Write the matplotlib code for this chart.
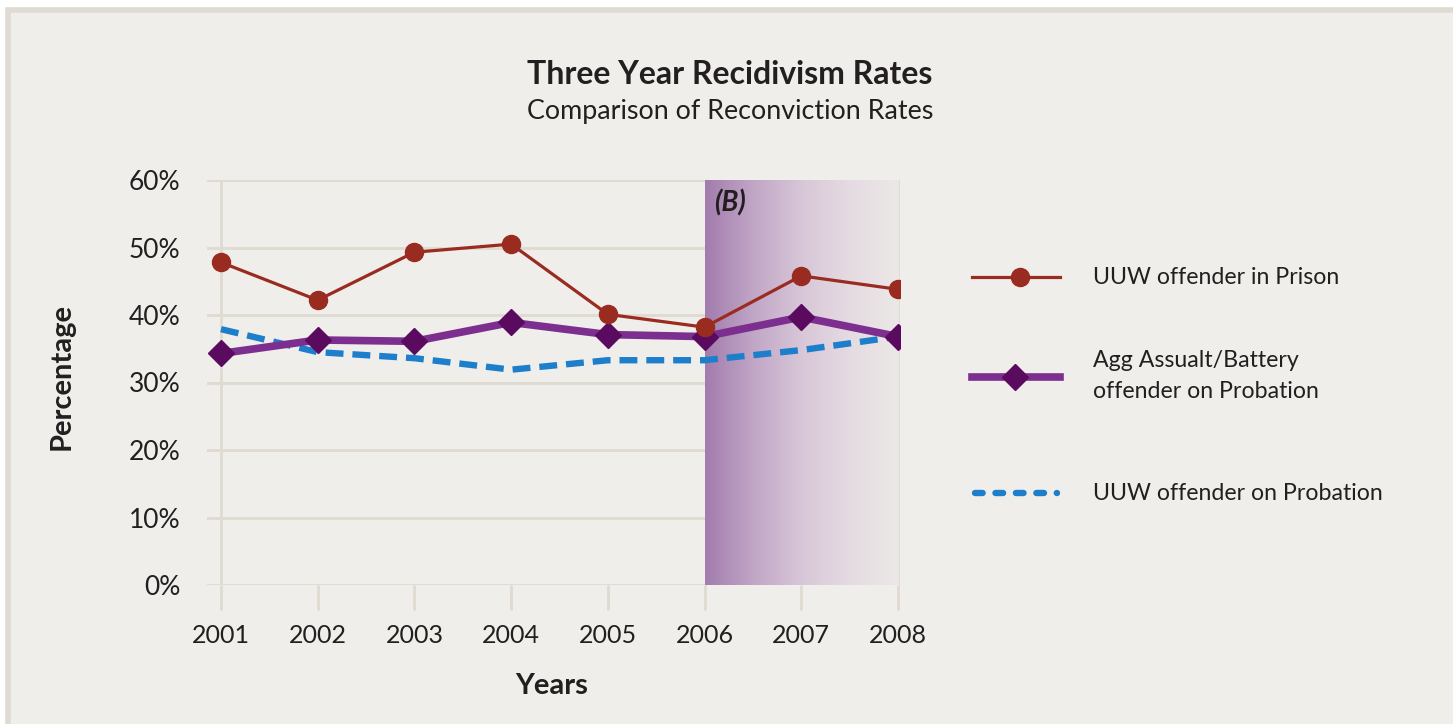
import numpy as np
import matplotlib.pyplot as plt
from matplotlib.patches import Rectangle
from matplotlib.lines import Line2D
from matplotlib.colors import LinearSegmentedColormap

years = [2001, 2002, 2003, 2004, 2005, 2006, 2007, 2008]
prison = [47.8, 42.2, 49.3, 50.5, 40.1, 38.2, 45.8, 43.8]
agg_probation = [34.3, 36.3, 36.1, 38.9, 37.1, 36.8, 39.7, 36.8]
uuw_probation = [37.9, 34.5, 33.6, 31.9, 33.3, 33.3, 34.8, 36.8]
yticks = [0, 10, 20, 30, 40, 50, 60]
shade_start, shade_end = 2006, 2008

plt.rcParams['font.family'] = ['Lato', 'DejaVu Sans']
bg = '#f0eeea'
grid_c = '#e0dad0'
txt = '#231f20'

fig = plt.figure(figsize=(14.53, 7.24), dpi=100)
fig.patch.set_facecolor('white')
fig.patches.append(Rectangle((8 / 1453, -0.1), 1.2, 1 - 10 / 724 + 0.1, transform=fig.transFigure,
                             facecolor=bg, edgecolor='#e0dbd2', linewidth=4, zorder=-10))

ax = fig.add_axes([207 / 1453, 1 - 585 / 724, (900 - 207) / 1453, (585 - 180) / 724])
ax.set_facecolor('none')
ax.set_xlim(2001 - 14 / 96.7, 2008 + 2 / 96.7)
ax.set_ylim(0, 60)

# shaded band, fading to the right
grad = np.linspace(0, 1, 256).reshape(1, -1)
cmap = LinearSegmentedColormap.from_list(
    'fade', ['#a27cad', '#c1a6c6', '#d8c7d8', '#e5dbe2', '#ece8e7'])
ax.imshow(grad, extent=[shade_start, shade_end, 0, 60], aspect='auto', cmap=cmap, zorder=1)

for y in yticks:
    ax.axhline(y, color=grid_c, linewidth=2, zorder=0.5)
ax.axvline(years[0], color=grid_c, linewidth=2, zorder=0.5)
ax.axvline(years[-1] + 1 / 96.7, color=grid_c, linewidth=2, zorder=0.5)

dash = (0, (2.8, 1.4))
ax.plot(years, uuw_probation, color='#1d7fcc', linewidth=4.6, linestyle=dash, zorder=3)
ax.plot(years, agg_probation, color='#7d2f8f', linewidth=5.5, marker='D', markersize=13.5,
        markerfacecolor='#5b0b5f', markeredgecolor='#5b0b5f', zorder=4)
ax.plot(years, prison, color='#9a2b21', linewidth=2.3, marker='o', markersize=13,
        markerfacecolor='#9a2b21', markeredgecolor='#9a2b21', zorder=5)

for s in ax.spines.values():
    s.set_visible(False)
ax.set_yticks(yticks)
ax.set_yticklabels([f'{v}%' for v in yticks])
ax.set_xticks(years)
ax.set_xticklabels([str(y) for y in years])
ax.tick_params(axis='y', length=0, pad=19, labelsize=19, labelcolor=txt)
ax.tick_params(axis='x', length=18, width=2, color=grid_c, pad=10, labelsize=18, labelcolor=txt)

ax.text(shade_start + 0.1, 56.6, '(B)', fontsize=20, fontweight='bold', fontstyle='italic',
        color=txt, ha='left', va='center', zorder=6)

fig.text(730 / 1453, 1 - 75 / 724, 'Three Year Recidivism Rates', ha='center', va='center',
         fontsize=23, fontweight='bold', color=txt)
fig.text(730 / 1453, 1 - 111 / 724, 'Comparison of Reconviction Rates', ha='center', va='center',
         fontsize=19.4, color=txt)
fig.text(62 / 1453, 1 - 376 / 724, 'Percentage', rotation=90, ha='center', va='center',
         fontsize=21, fontweight='bold', color=txt)
fig.text(552 / 1453, 1 - 686 / 724, 'Years', ha='center', va='center',
         fontsize=21, fontweight='bold', color=txt)


def fx(px):
    return px / 1453


def fy(py):
    return 1 - py / 724


# legend drawn by hand, to the right of the plot
leg_x0, leg_x1, leg_tx = 972, 1060, 1093
fig.add_artist(Line2D([fx(leg_x0), fx(leg_x1)], [fy(277), fy(277)], color='#9a2b21', linewidth=2.3))
fig.add_artist(Line2D([fx(1020)], [fy(277)], marker='o', markersize=13, color='#9a2b21'))
fig.text(fx(leg_tx), fy(277), 'UUW offender in Prison', fontsize=16.7, va='center', color=txt)

fig.add_artist(Line2D([fx(leg_x0), fx(leg_x1)], [fy(377), fy(377)], color='#7d2f8f', linewidth=5.5))
fig.add_artist(Line2D([fx(1015)], [fy(377)], marker='D', markersize=13.5, color='#5b0b5f'))
fig.text(fx(leg_tx), fy(376), 'Agg Assualt/Battery\noffender on Probation', fontsize=16.7,
         va='center', color=txt, linespacing=1.55)

fig.add_artist(Line2D([fx(leg_x0 + 3), fx(leg_x1 - 3)], [fy(493), fy(493)], color='#1d7fcc',
                      linewidth=4.6, linestyle=(0, (1.2, 2.0)), dash_capstyle='round'))
fig.text(fx(leg_tx), fy(493), 'UUW offender on Probation', fontsize=16.7, va='center', color=txt)

fig.savefig('out.png', dpi=100, facecolor=fig.get_facecolor())
